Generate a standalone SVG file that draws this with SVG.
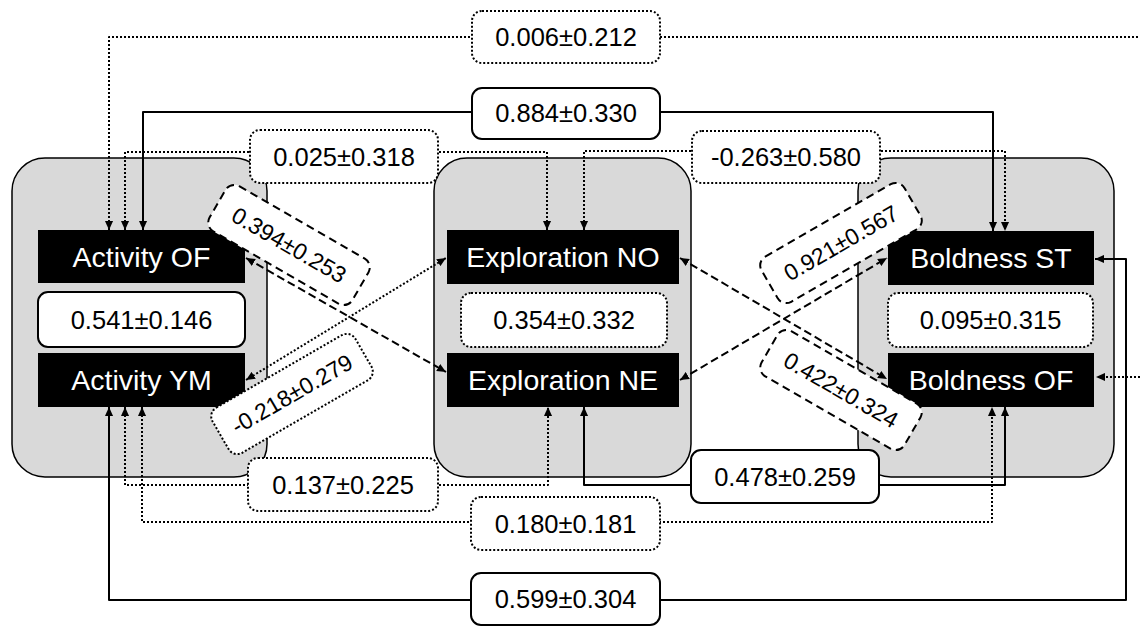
<svg xmlns="http://www.w3.org/2000/svg" width="1140" height="626" viewBox="0 0 1140 626">
<style>
.grp{fill:#d9d9d9;stroke:#000;stroke-width:1.5}
.node rect{fill:#000}
.node text{fill:#fff;font-family:"Liberation Sans",Arial,sans-serif;font-size:28.5px;text-anchor:middle}
.c{fill:none;stroke:#000;stroke-width:2;stroke-linejoin:round;marker-start:url(#ah);marker-end:url(#ah)}
.dot{stroke-dasharray:2 2}
.dash{stroke-dasharray:8 4}
.lb rect{fill:#fff;stroke:#000;stroke-width:2}
.lb.dot rect{stroke-dasharray:2 2}
.lb.dash rect{stroke-dasharray:8 5}
.lb text{fill:#000;font-family:"Liberation Sans",Arial,sans-serif;font-size:25.5px;text-anchor:middle;stroke:none}
.lb.rot text{font-size:23px}
</style>
<defs>
<marker id="ah" viewBox="0 0 10 10" refX="10" refY="5" markerWidth="9" markerHeight="9" markerUnits="userSpaceOnUse" orient="auto-start-reverse"><path d="M0,0.5 L10,5 L0,9.5 z" fill="#000"/></marker>
</defs>
<rect width="1140" height="626" fill="#fff"/>
<g id="containers">
<rect id="grp-activity" class="grp" x="12" y="158" width="255" height="319" rx="33"/>
<rect id="grp-exploration" class="grp" x="434" y="158" width="257" height="319" rx="33"/>
<rect id="grp-boldness" class="grp" x="858" y="158" width="256" height="319" rx="33"/>
</g>
<g id="connectors">
<path id="c006" class="c dot" d="M109,230 V37 H1150 V377 H1096"/>
<path id="c884" class="c" d="M143,230 V112 H993 V231"/>
<path id="c025" class="c dot" d="M125,230 V152 H547 V230"/>
<path id="c263" class="c dot" d="M584,230 V151 H1005 V231"/>
<path id="c137" class="c dot" d="M125,407 V485 H548 V407"/>
<path id="c180" class="c dot" d="M142,407 V522 H992 V407"/>
<path id="c478" class="c" d="M584,407 V485 H1005 V407"/>
<path id="c599" class="c" d="M109,407 V600 H1126 V259 H1095"/>
<path id="c394" class="c dash" d="M246,258 L446,372"/>
<path id="c218" class="c dot" d="M246,380 L446,258"/>
<path id="c921" class="c dash" d="M680,380 L887,258"/>
<path id="c422" class="c dash" d="M680,258 L887,379"/>
</g>
<g id="activity-of" class="node"><rect x="38" y="230" width="207" height="53"/><text x="141.5" y="266.5">Activity OF</text></g>
<g id="activity-ym" class="node"><rect x="38" y="353" width="207" height="54"/><text x="141.5" y="390">Activity YM</text></g>
<g id="exploration-no" class="node"><rect x="447" y="230" width="232" height="54"/><text x="563" y="267">Exploration NO</text></g>
<g id="exploration-ne" class="node"><rect x="447" y="353" width="232" height="54"/><text x="563" y="390">Exploration NE</text></g>
<g id="boldness-st" class="node"><rect x="888" y="231" width="206" height="54"/><text x="991" y="268">Boldness ST</text></g>
<g id="boldness-of" class="node"><rect x="888" y="353" width="206" height="54"/><text x="991" y="390">Boldness OF</text></g>
<g id="labels">
<g id="l006" class="lb dot"><rect x="472" y="11" width="188" height="52" rx="10"/><text x="566" y="46">0.006±0.212</text></g>
<g id="l884" class="lb"><rect x="472" y="88" width="188" height="51" rx="10"/><text x="566" y="122">0.884±0.330</text></g>
<g id="l025" class="lb dot"><rect x="250" y="130" width="188" height="53" rx="10"/><text x="344" y="165.5">0.025±0.318</text></g>
<g id="l263" class="lb dot"><rect x="692" y="131" width="188" height="52" rx="10"/><text x="786" y="166">-0.263±0.580</text></g>
<g id="l541" class="lb"><rect x="38" y="292" width="207" height="55" rx="10"/><text x="141.5" y="328.5">0.541±0.146</text></g>
<g id="l354" class="lb dot"><rect x="461" y="293" width="206" height="54" rx="10"/><text x="564" y="329">0.354±0.332</text></g>
<g id="l095" class="lb dot"><rect x="888" y="293" width="205" height="54" rx="10"/><text x="990.5" y="329">0.095±0.315</text></g>
<g id="l137" class="lb dot"><rect x="248" y="458" width="190" height="53" rx="10"/><text x="343" y="493.5">0.137±0.225</text></g>
<g id="l478" class="lb"><rect x="691" y="450" width="188" height="53" rx="10"/><text x="785" y="485.5">0.478±0.259</text></g>
<g id="l180" class="lb dot"><rect x="471" y="497" width="189" height="53" rx="10"/><text x="565.5" y="532.5">0.180±0.181</text></g>
<g id="l599" class="lb"><rect x="471" y="573" width="189" height="52" rx="10"/><text x="565.5" y="608">0.599±0.304</text></g>
<g id="l394" class="lb dash rot" transform="translate(289,245) rotate(30)"><rect x="-82.5" y="-26" width="165" height="52" rx="10"/><text x="0" y="8">0.394±0.253</text></g>
<g id="l218" class="lb dot rot" transform="translate(292,394) rotate(-30)"><rect x="-82.5" y="-26" width="165" height="52" rx="10"/><text x="0" y="8">-0.218±0.279</text></g>
<g id="l921" class="lb dash rot" transform="translate(841,243) rotate(-30)"><rect x="-82.5" y="-26" width="165" height="52" rx="10"/><text x="0" y="8">0.921±0.567</text></g>
<g id="l422" class="lb dash rot" transform="translate(841,390) rotate(30)"><rect x="-82.5" y="-26" width="165" height="52" rx="10"/><text x="0" y="8">0.422±0.324</text></g>
</g>
</svg>
